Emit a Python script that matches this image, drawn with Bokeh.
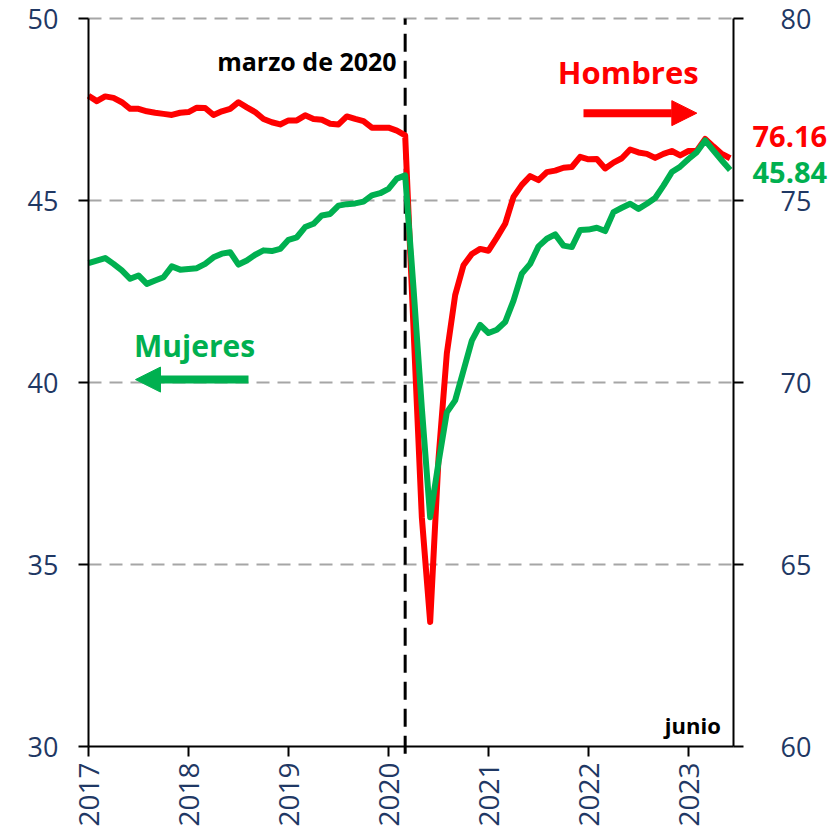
import math
from bokeh.plotting import figure
from bokeh.models import (Range1d, LinearAxis, FixedTicker, Label, Arrow,
                          NormalHead, ColumnDataSource)
from bokeh.embed import file_html
from bokeh.resources import INLINE

# ---------------- data ----------------
years = ["2017", "2018", "2019", "2020", "2021", "2022", "2023"]
year_ticks = [0, 12, 24, 36, 48, 60, 72]          # month index of each January
left_ticks = [30, 35, 40, 45, 50]
right_ticks = [60, 65, 70, 75, 80]

# monthly, Jan 2017 .. Jun 2023 (78 months)
hombres = [77.88, 77.73, 77.86, 77.82, 77.70, 77.52, 77.52, 77.45, 77.41, 77.38,
           77.35, 77.41, 77.43, 77.55, 77.54, 77.35, 77.45, 77.52, 77.70, 77.56,
           77.43, 77.24, 77.15, 77.09, 77.20, 77.20, 77.34, 77.24, 77.22, 77.11,
           77.09, 77.31, 77.24, 77.18, 77.00, 77.00, 77.00, 76.92, 76.79,
           71.50, 66.30, 63.42, 67.90, 70.80, 72.40, 73.22, 73.53, 73.67, 73.62,
           73.98, 74.36, 75.10, 75.43, 75.67, 75.56, 75.78, 75.82, 75.90, 75.92,
           76.20, 76.13, 76.14, 75.88, 76.04, 76.16, 76.40, 76.32, 76.28, 76.17,
           76.28, 76.36, 76.24, 76.36, 76.37, 76.69, 76.48, 76.28, 76.16]

mujeres = [43.28, 43.35, 43.42, 43.26, 43.08, 42.85, 42.94, 42.71, 42.80, 42.89,
           43.19, 43.10, 43.12, 43.14, 43.26, 43.44, 43.54, 43.58, 43.24, 43.35,
           43.51, 43.63, 43.61, 43.67, 43.92, 43.99, 44.27, 44.36, 44.59, 44.63,
           44.86, 44.90, 44.92, 44.97, 45.14, 45.20, 45.32, 45.60, 45.69,
           42.60, 39.30, 36.30, 37.80, 39.18, 39.51, 40.33, 41.15, 41.58, 41.36,
           41.45, 41.66, 42.25, 42.99, 43.26, 43.74, 43.95, 44.07, 43.76, 43.72,
           44.19, 44.20, 44.25, 44.16, 44.68, 44.80, 44.91, 44.77, 44.91, 45.07,
           45.41, 45.78, 45.93, 46.14, 46.33, 46.65, 46.37, 46.10, 45.84]

month_idx = list(range(len(hombres)))
marzo_2020 = 38
x_axis_end = 77.4        # where the right-hand axis sits (month index)

RED = "#FF0000"
GREEN = "#00B050"
NAVY = "#1F3864"
FONT = "Open Sans"

# ---------------- layout ----------------
W, H = 830, 837
PLOT_LEFT, PLOT_TOP, PLOT_BOTTOM, PLOT_RIGHT = 88, 18, 746, 733   # axes box, px
px_per_month = (PLOT_RIGHT - PLOT_LEFT) / x_axis_end
x_start = -PLOT_LEFT / px_per_month
x_end = (W - PLOT_LEFT) / px_per_month
y0, y1 = left_ticks[0], left_ticks[-1]
px_per_unit = (PLOT_BOTTOM - PLOT_TOP) / (y1 - y0)
pad_top = PLOT_TOP / px_per_unit
pad_bot = (H - PLOT_BOTTOM) / px_per_unit
shift = right_ticks[0] - left_ticks[0]

src = ColumnDataSource(dict(m=month_idx, h=hombres, w=mujeres))

p = figure(width=W, height=H, output_backend="svg", toolbar_location=None,
           x_range=Range1d(x_start, x_end),
           y_range=Range1d(y0 - pad_bot, y1 + pad_top),
           min_border_left=0, min_border_right=0, min_border_top=0,
           min_border_bottom=0)
p.extra_y_ranges = {"right": Range1d(y0 - pad_bot + shift, y1 + pad_top + shift)}
p.outline_line_color = None
p.background_fill_color = "white"
p.border_fill_color = "white"

# grid: dashed horizontal lines only between the two axes
p.xgrid.visible = False
p.ygrid.visible = False
grid_y = [t for t in left_ticks if t > left_ticks[0]]
p.segment(x0=[0] * len(grid_y), x1=[x_axis_end] * len(grid_y), y0=grid_y, y1=grid_y,
          line_color="#A6A6A6", line_width=2, line_dash="13 8")


def style_axis(ax):
    ax.axis_line_color = "black"
    ax.axis_line_width = 2
    ax.major_tick_line_color = "black"
    ax.major_tick_line_width = 2
    ax.major_tick_out = 10
    ax.major_tick_in = 0
    ax.minor_tick_line_color = None
    ax.major_label_text_font = FONT
    ax.major_label_text_font_size = "27px"
    ax.major_label_text_color = NAVY


yl = p.yaxis[0]
yl.ticker = FixedTicker(ticks=left_ticks)
yl.bounds = (y0, y1)
yl.fixed_location = 0
style_axis(yl)
yl.major_label_standoff = 20

yr = LinearAxis(y_range_name="right", ticker=FixedTicker(ticks=right_ticks),
                fixed_location=x_axis_end, bounds=(right_ticks[0], right_ticks[-1]))
style_axis(yr)
yr.major_label_standoff = 37
p.add_layout(yr, "right")

xa = p.xaxis[0]
xa.ticker = FixedTicker(ticks=year_ticks)
xa.major_label_overrides = {t: y for t, y in zip(year_ticks, years)}
xa.bounds = (0, x_axis_end)
xa.fixed_location = y0
style_axis(xa)
xa.major_label_text_font_size = "28px"
xa.major_label_orientation = math.pi / 2
xa.major_label_standoff = 6

# vertical dashed line at march 2020
p.segment(x0=[marzo_2020], x1=[marzo_2020], y0=[y0 - 0.2], y1=[y1],
          line_color="black", line_width=3, line_dash="18 9")

# series
p.line("m", "h", source=src, y_range_name="right", line_color=RED, line_width=6,
       line_join="round")
p.line("m", "w", source=src, line_color=GREEN, line_width=6, line_join="round")

# annotations
dy = 0.29   # baseline correction


def lab(x, y, text, color, size, align="left"):
    p.add_layout(Label(x=x, y=y + dy, text=text, text_color=color, text_font=FONT,
                       text_font_style="bold", text_font_size=size,
                       text_align=align, text_baseline="alphabetic"))


lab(36.97, 48.54, "marzo de 2020", "black", "25px", "right")
lab(64.77, 48.24, "Hombres", RED, "31px", "center")
lab(12.73, 40.74, "Mujeres", GREEN, "30px", "center")
lab(75.87, 30.30, "junio", "black", "22px", "right")
lab(79.68, 46.46, f"{hombres[-1]:.2f}", RED, "29px", "left")
lab(79.68, 45.49, f"{mujeres[-1]:.2f}", GREEN, "29px", "left")

p.add_layout(Arrow(end=NormalHead(size=25, fill_color=RED, line_color=RED),
                   x_start=59.4, y_start=47.40, x_end=73.0, y_end=47.40,
                   line_color=RED, line_width=8))
p.add_layout(Arrow(end=NormalHead(size=25, fill_color=GREEN, line_color=GREEN),
                   x_start=19.2, y_start=40.08, x_end=5.64, y_end=40.08,
                   line_color=GREEN, line_width=8))

open("out.html", "w").write(file_html(p, INLINE))
